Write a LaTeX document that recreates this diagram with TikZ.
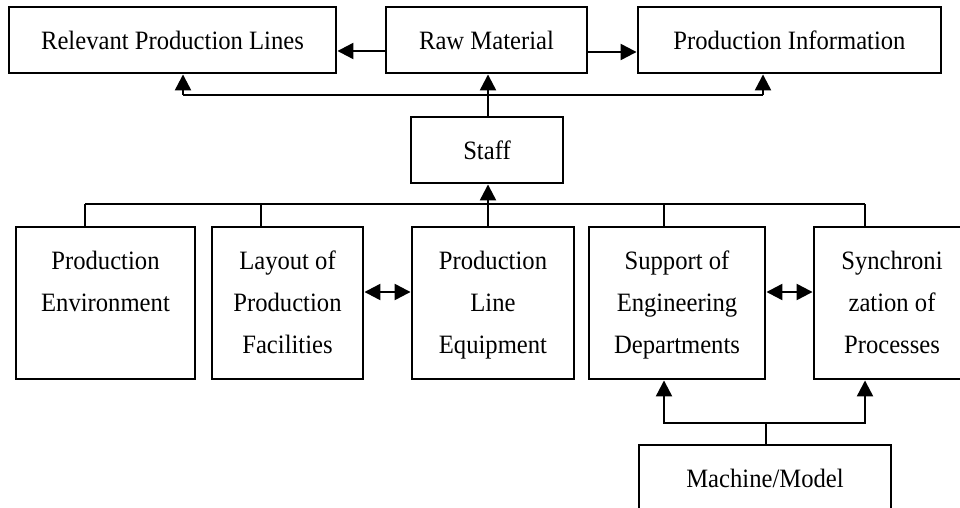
\documentclass[tikz,border=0pt]{standalone}
\usepackage{fontspec}
\setmainfont{Liberation Serif}[FakeStretch=0.93]
\usetikzlibrary{arrows.meta}
\begin{document}
\begin{tikzpicture}[x=1pt,y=-1pt,
  box/.style={draw, line width=2.9pt, inner sep=0pt, align=center,
    font=\fontsize{26.5}{42}\selectfont},
  arr/.style={line width=2.3pt, -{Triangle[length=16pt,width=16pt]}},
  darr/.style={line width=2.3pt, {Triangle[length=16pt,width=16pt]}-{Triangle[length=16pt,width=16pt]}},
  bus/.style={line width=1.7pt}]
\useasboundingbox (0,0) rectangle (960,508);
\clip (0,0) rectangle (960,508);
% top row
\node[box, minimum width=327pt, minimum height=66pt] (rpl) at (172.5,40) {Relevant Production Lines};
\node[box, minimum width=201pt, minimum height=66pt] (rm) at (486.5,40) {Raw Material};
\node[box, minimum width=303pt, minimum height=66pt] (pi) at (789.5,40) {Production Information};
% staff
\node[box, minimum width=152pt, minimum height=66pt] (staff) at (487,150) {Staff};
% bottom row
\node[box, minimum width=179pt, minimum height=152pt] (pe) at (105.5,303) {\strut Production\\\strut Environment\\\strut~};
\node[box, minimum width=151pt, minimum height=152pt] (lpf) at (287.5,303) {\strut Layout of\\\strut Production\\\strut Facilities};
\node[box, minimum width=162pt, minimum height=152pt] (ple) at (493,303) {\strut Production\\\strut Line\\\strut Equipment};
\node[box, minimum width=176pt, minimum height=152pt] (sed) at (677,303) {\strut Support of\\\strut Engineering\\\strut Departments};
\node[box, minimum width=156pt, minimum height=152pt] (sp) at (892,303) {\strut Synchroni\\\strut zation of\\\strut Processes};
% machine/model
\node[box, minimum width=252pt, minimum height=66pt] (mm) at (765,478) {Machine/Model};
% top connectors
\draw[arr] ([yshift=-11pt]rm.west) -- ([yshift=-11pt]rpl.east);
\draw[arr] ([yshift=-12pt]rm.east) -- ([yshift=-12pt]pi.west);
\draw[arr] ([xshift=1pt]staff.north) -- ([xshift=1pt]staff.north |- rm.south);
\coordinate (u1) at (183,95);
\coordinate (u2) at (763,95);
\draw[bus] (u1) -- (u2);
\draw[arr] (u1) -- (u1 |- rpl.south);
\draw[arr] (u2) -- (u2 |- pi.south);
% lower bus
\coordinate (l1) at (85,204);
\coordinate (l2) at (261,204);
\coordinate (l3) at (664,204);
\coordinate (l4) at (865,204);
\coordinate (lp) at (488,227);
\draw[bus] (l1) -- (l4);
\draw[bus] (l1) -- (l1 |- pe.north);
\draw[bus] (l2) -- (l2 |- lpf.north);
\draw[bus] (l3) -- (l3 |- sed.north);
\draw[bus] (l4) -- (l4 |- sp.north);
\draw[arr] (lp) -- (lp |- staff.south);
% double arrows
\draw[darr] ([yshift=11pt]lpf.east) -- ([yshift=11pt]ple.west);
\draw[darr] ([yshift=11pt]sed.east) -- ([yshift=11pt]sp.west);
% machine/model connectors
\coordinate (m0) at (766,423);
\coordinate (m1) at (664,423);
\coordinate (m2) at (865,423);
\draw[bus] (mm.north -| m0) -- (m0);
\draw[arr] (m0) -- (m1) -- (m1 |- sed.south);
\draw[arr] (m0) -- (m2) -- (m2 |- sp.south);
\end{tikzpicture}
\end{document}
